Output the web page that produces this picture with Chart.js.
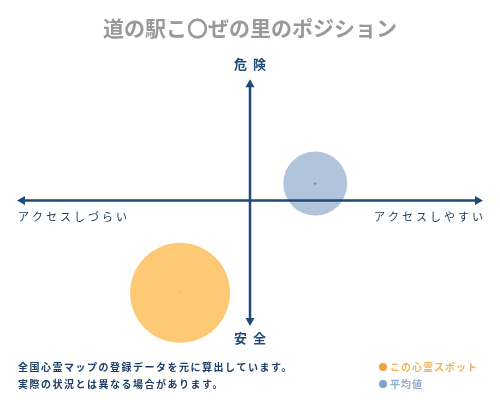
<!DOCTYPE html>
<html>
<head>
<meta charset="utf-8">
<script src="https://cdn.jsdelivr.net/npm/chart.js@4"></script>
<style>
body { margin: 0; background: #fff; }
</style>
</head>
<body>
<canvas id="position" width="500" height="400"></canvas>
<script>
var titleText = "道の駅こ〇ぜの里のポジション";
var seriesNames = ["この心霊スポット", "平均値"];
// x: アクセスしづらい(-1) .. アクセスしやすい(1), y: 安全(-1) .. 危険(1)
var spotPoint = [-0.30, -0.76];
var avgPoint = [0.28, 0.14];
var spotSize = [50];
var avgSize = [32];
var axisLabels = { top: "危険", bottom: "安全", left: "アクセスしづらい", right: "アクセスしやすい" };
var notes = ["全国心霊マップの登録データを元に算出しています。", "実際の状況とは異なる場合があります。"];

var navy = "#1d4a79";
var font = "'Noto Sans CJK JP', 'Noto Sans', sans-serif";

function arrowHead(ctx, x, y, dir) {
    // dir: 'up','down','left','right'
    var l = 8, w = 4.5;
    ctx.beginPath();
    if (dir == 'up') { ctx.moveTo(x, y); ctx.lineTo(x - w, y + l); ctx.lineTo(x + w, y + l); }
    if (dir == 'down') { ctx.moveTo(x, y); ctx.lineTo(x - w, y - l); ctx.lineTo(x + w, y - l); }
    if (dir == 'left') { ctx.moveTo(x, y); ctx.lineTo(x + l, y - w); ctx.lineTo(x + l, y + w); }
    if (dir == 'right') { ctx.moveTo(x, y); ctx.lineTo(x - l, y - w); ctx.lineTo(x - l, y + w); }
    ctx.closePath();
    ctx.fill();
}

var axesPlugin = {
    id: 'axes',
    afterDatasetsDraw: function (chart) {
        var ctx = chart.ctx;
        var xs = chart.scales.x, ys = chart.scales.y;
        var cx = xs.getPixelForValue(0), cy = ys.getPixelForValue(0);
        var a = chart.chartArea;
        ctx.save();
        ctx.strokeStyle = navy;
        ctx.fillStyle = navy;
        ctx.lineWidth = 2.5;
        ctx.beginPath();
        ctx.moveTo(a.left + 3, cy); ctx.lineTo(a.right - 3, cy);
        ctx.moveTo(cx, a.top + 3); ctx.lineTo(cx, a.bottom + 1);
        ctx.stroke();
        arrowHead(ctx, a.left, cy, 'left');
        arrowHead(ctx, a.right, cy, 'right');
        arrowHead(ctx, cx, a.top, 'up');
        arrowHead(ctx, cx, a.bottom + 4, 'down');

        ctx.textBaseline = 'middle';
        ctx.font = "bold 13px " + font;
        ctx.letterSpacing = "6px";
        ctx.textAlign = 'center';
        ctx.fillText(axisLabels.top, cx + 3, a.top - 15);
        ctx.fillText(axisLabels.bottom, cx + 3, a.bottom + 16);

        ctx.font = "11px " + font;
        ctx.letterSpacing = "3px";
        ctx.fillStyle = "#223a55";
        ctx.textAlign = 'left';
        ctx.fillText(axisLabels.left, a.left + 1, cy + 16);
        ctx.textAlign = 'right';
        ctx.fillText(axisLabels.right, a.right + 3, cy + 16);

        // notes
        ctx.font = "bold 10px " + font;
        ctx.letterSpacing = "1.5px";
        ctx.fillStyle = "#1d3f66";
        ctx.textAlign = 'left';
        ctx.fillText(notes[0], 18, 367);
        ctx.fillText(notes[1], 18, 384);

        // legend
        ctx.letterSpacing = "1px";
        ctx.font = "bold 10px " + font;
        ctx.fillStyle = "#f0a040";
        ctx.beginPath(); ctx.arc(383, 367, 4, 0, Math.PI * 2); ctx.fill();
        ctx.fillStyle = "#f2b35a";
        ctx.fillText(seriesNames[0], 390, 367);
        ctx.fillStyle = "#7ea2c8";
        ctx.beginPath(); ctx.arc(383, 384, 4, 0, Math.PI * 2); ctx.fill();
        ctx.fillStyle = "#8eaed0";
        ctx.fillText(seriesNames[1], 390, 384);
        ctx.restore();
    }
};

var ctx = document.getElementById('position').getContext('2d');
var chart = new Chart(ctx, {
    type: 'bubble',
    data: {
        datasets: [{
            label: seriesNames[0],
            data: [{ x: spotPoint[0], y: spotPoint[1], r: spotSize[0] }],
            backgroundColor: 'rgba(253, 196, 105, 0.92)',
            borderWidth: 0,
            clip: false
        }, {
            label: seriesNames[1],
            data: [{ x: avgPoint[0], y: avgPoint[1], r: avgSize[0] }],
            backgroundColor: 'rgba(150, 177, 208, 0.75)',
            borderWidth: 0,
            clip: false
        }, {
            label: 'center',
            data: [{ x: spotPoint[0], y: spotPoint[1], r: 2 }, { x: avgPoint[0], y: avgPoint[1], r: 1.3 }],
            backgroundColor: ['#e89a20', '#1d2f4a'],
            borderWidth: 0,
            clip: false
        }]
    },
    options: {
        responsive: false,
        animation: false,
        devicePixelRatio: 1,
        layout: { autoPadding: false, padding: { left: 17, right: 17, top: 0, bottom: 78 } },
        scales: {
            x: { display: false, min: -1, max: 1 },
            y: { display: false, min: -1, max: 1 }
        },
        plugins: {
            legend: { display: false },
            tooltip: { enabled: false },
            title: {
                display: true,
                text: titleText,
                color: '#999999',
                font: { family: font, size: 21, weight: 'bold' },
                padding: { top: 15, bottom: 39 }
            }
        }
    },
    plugins: [axesPlugin]
});
</script>
</body>
</html>
